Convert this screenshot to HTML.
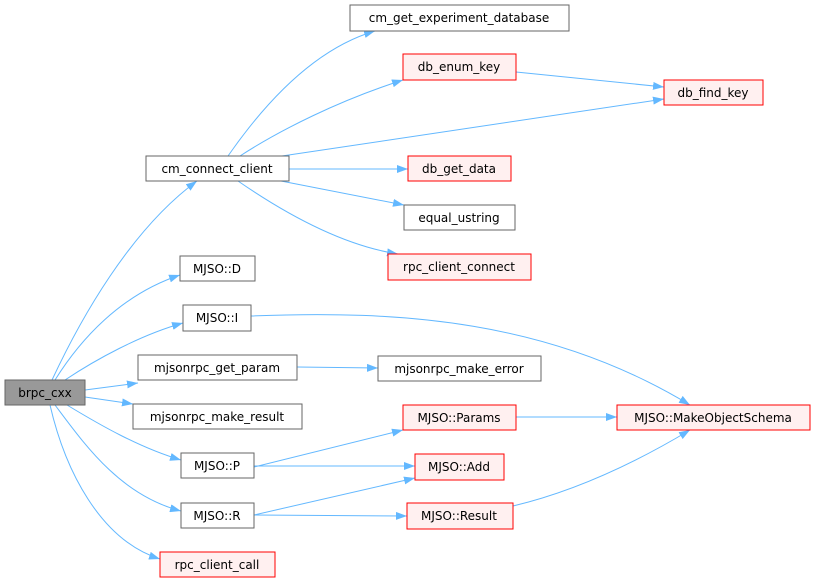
<!DOCTYPE html>
<html><head><style>
html,body{margin:0;padding:0;background:#fff;}
svg{display:block;}
text{font-family:"DejaVu Sans","Liberation Sans",sans-serif;font-size:12px;fill:#000;}
.n{fill:#fff;stroke:#666;stroke-width:1;}
.r{fill:#fff0f0;stroke:#f00;stroke-width:1;}
.g{fill:#999;stroke:#666;stroke-width:1;}
.e{fill:none;stroke:#63b8ff;stroke-width:1;}
</style></head><body>
<svg width="816" height="583" viewBox="0 0 816 583" xmlns="http://www.w3.org/2000/svg">
<defs><marker id="a" viewBox="0 0 11 8" refX="11" refY="4" markerWidth="11" markerHeight="8" markerUnits="userSpaceOnUse" orient="auto"><path d="M0,0L11,4L0,8z" fill="#63b8ff"/></marker></defs>
<g class="e" marker-end="url(#a)">
<path d="M52,380C80,320 130,230 197,181"/>
<path d="M55,380C80,340 120,295 180,275"/>
<path d="M65,380C95,360 140,335 183,323"/>
<path d="M85,390L138,383"/>
<path d="M85,397L133,404"/>
<path d="M67,405C100,425 140,448 181,460"/>
<path d="M55,405C85,445 120,495 181,511"/>
<path d="M50,405C65,470 100,540 160,559"/>
<path d="M228,156C260,110 310,50 375,31"/>
<path d="M240,156C280,130 340,100 403,80"/>
<path d="M282,156L664,99"/>
<path d="M289,169L408,169"/>
<path d="M281,181L404,205"/>
<path d="M238,181C280,210 340,245 398,254"/>
<path d="M516,72L664,87"/>
<path d="M297,367L378,368"/>
<path d="M251,316C400,310 550,320 690,405"/>
<path d="M254,467L403,430"/>
<path d="M254,466L415,466"/>
<path d="M254,515L415,478"/>
<path d="M254,515L407,516"/>
<path d="M516,417L617,417"/>
<path d="M513,506C580,490 640,460 690,430"/>
</g>
<rect class="g" x="5" y="380" width="80" height="25"/><text x="45" y="397" text-anchor="middle">brpc_cxx</text>
<rect class="n" x="146" y="156" width="143" height="25"/><text x="217" y="173" text-anchor="middle">cm_connect_client</text>
<rect class="n" x="180" y="256" width="75" height="25"/><text x="217" y="273" text-anchor="middle">MJSO::D</text>
<rect class="n" x="183" y="305" width="68" height="26"/><text x="217" y="322" text-anchor="middle">MJSO::I</text>
<rect class="n" x="138" y="355" width="159" height="25"/><text x="217" y="372" text-anchor="middle">mjsonrpc_get_param</text>
<rect class="n" x="133" y="404" width="169" height="25"/><text x="217" y="421" text-anchor="middle">mjsonrpc_make_result</text>
<rect class="n" x="181" y="453" width="73" height="25"/><text x="217" y="470" text-anchor="middle">MJSO::P</text>
<rect class="n" x="181" y="503" width="73" height="25"/><text x="217" y="520" text-anchor="middle">MJSO::R</text>
<rect class="r" x="160" y="552" width="115" height="25"/><text x="217" y="569" text-anchor="middle">rpc_client_call</text>
<rect class="n" x="350" y="5" width="219" height="26"/><text x="459" y="22" text-anchor="middle">cm_get_experiment_database</text>
<rect class="r" x="403" y="54" width="113" height="26"/><text x="459" y="71" text-anchor="middle">db_enum_key</text>
<rect class="r" x="664" y="80" width="99" height="25"/><text x="713" y="97" text-anchor="middle">db_find_key</text>
<rect class="r" x="408" y="156" width="103" height="25"/><text x="459" y="173" text-anchor="middle">db_get_data</text>
<rect class="n" x="404" y="205" width="111" height="25"/><text x="459" y="222" text-anchor="middle">equal_ustring</text>
<rect class="r" x="388" y="254" width="143" height="26"/><text x="459" y="271" text-anchor="middle">rpc_client_connect</text>
<rect class="n" x="378" y="356" width="163" height="25"/><text x="459" y="373" text-anchor="middle">mjsonrpc_make_error</text>
<rect class="r" x="403" y="405" width="113" height="25"/><text x="459" y="422" text-anchor="middle">MJSO::Params</text>
<rect class="r" x="617" y="405" width="193" height="25"/><text x="713" y="422" text-anchor="middle">MJSO::MakeObjectSchema</text>
<rect class="r" x="415" y="454" width="89" height="26"/><text x="459" y="471" text-anchor="middle">MJSO::Add</text>
<rect class="r" x="407" y="503" width="106" height="26"/><text x="459" y="520" text-anchor="middle">MJSO::Result</text>
</svg>
</body></html>
